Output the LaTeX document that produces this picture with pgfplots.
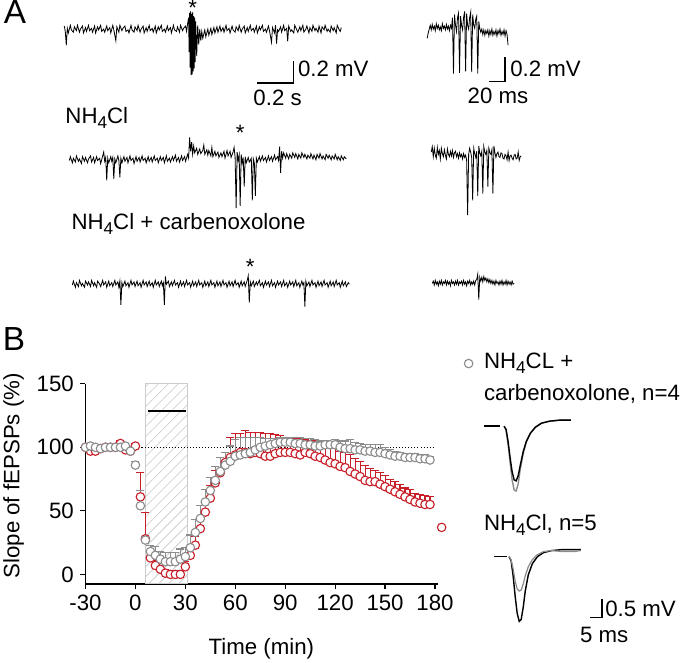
\documentclass[border=0pt]{standalone}
\usepackage{pgfplots}
\usepackage{pgfplotstable}
\pgfplotsset{compat=1.18}
\usetikzlibrary{patterns.meta}
\usepackage{fontspec}
\setmainfont{Liberation Sans}
\newcommand{\fs}{\fontsize{22}{26}\selectfont}
\newcommand{\sub}[1]{\raisebox{-5pt}{\fontsize{17}{17}\selectfont #1}}
\definecolor{nred}{RGB}{200,30,40}
\definecolor{ngray}{RGB}{140,140,140}

\pgfplotstableread{
t y e
-30 100 1
-27 97 2
-24 97 2
-21 99 2
-18 100 1
-15 100 2
-12 100 2
-9 103 2
-6 98 3
-3 97 2
0 101 2
3 61 19
6 28 21
9 13 4
12 7 4
15 4 3
18 1 3
21 0 3
24 0 3
27 0 3
30 6 4
33 15 6
36 23 7
39 36 8
42 49 8
45 60 10
48 72 10
51 80 12
54 88 8
57 92 16
60 94 17
63 96 15
66 96 17
69 95 17
72 96 16
75 95 17
78 93 18
81 93 18
84 95 15
87 96 13
90 96 12
93 96 12
96 95 12
99 94 13
102 96 10
105 95 10
108 93 12
111 92 12
114 90 10
117 88 13
120 87 12
123 85 12
126 84 12
129 81 13
132 79 12
135 77 12
138 74 12
141 73 10
144 73 9
147 71 9
150 69 9
153 67 8
156 65 8
159 63 8
162 61 7
165 59 8
168 57 7
171 56 7
174 55 7
177 55 6
184 37 0
}\tabRed

\pgfplotstableread{
t y e
-30 100 1
-27 101 1
-24 100 1
-21 99 1
-18 100 1
-15 100 1
-12 100 1
-9 100 2
-6 101 2
-3 97 2
0 86 3
3 54 12
6 27 3
9 18 5
12 15 7
15 12 6
18 10 7
21 10 7
24 10 7
27 12 8
30 14 7
33 21 10
36 33 10
39 44 10
42 57 10
45 66 10
48 74 11
51 81 11
54 86 10
57 89 12
60 93 13
63 94 14
66 95 13
69 96 12
72 98 10
75 100 8
78 101 6
81 102 5
84 103 4
87 104 4
90 104 4
93 104 4
96 103 5
99 103 5
102 102 5
105 102 5
108 101 5
111 101 4
114 102 3
117 102 2
120 102 4
123 100 5
126 99 6
129 99 7
132 98 6
135 98 5
138 97 5
141 97 5
144 96 6
147 96 6
150 95 5
153 94 4
156 93 4
159 93 3
162 92 3
165 92 3
168 92 3
171 91 3
174 91 3
177 90 3
}\tabGray

\begin{document}
\begin{tikzpicture}
% ---------- canvas for panel B legend (pixel frame) ----------
\begin{axis}[at={(0pt,0pt)}, anchor=south west, scale only axis, hide axis, clip=false,
  x=1pt, y=1pt, xmin=0, xmax=680, ymin=0, ymax=661, y dir=reverse]
\node[font=\fontsize{33}{36}\selectfont, anchor=base west, inner sep=0pt] at (2,29) {A};
\node[font=\fontsize{33}{36}\selectfont, anchor=base west, inner sep=0pt] at (1,352) {B};
\addplot[only marks, mark=*, mark size=4.2pt, mark options={fill=white, draw=ngray, line width=1.1pt}] coordinates {(462,365)};
\node[font=\fs, anchor=west, inner sep=0pt] at (477,365) {NH\sub{4}CL +};
\node[font=\fs, anchor=west, inner sep=0pt] at (477,395) {carbenoxolone, n=4};
\node[font=\fs, anchor=west, inner sep=0pt] at (477,525) {NH\sub{4}Cl, n=5};
% fEPSP top
\addplot[black, line width=1.6pt] coordinates {(477,427) (493,427)};
\addplot[ngray, line width=1.4pt] coordinates {(497,427) (499,431) (501,445) (503,463) (505,480) (507,490) (509,491) (511,484) (513,470) (516,454) (519,443) (523,434) (528,428) (534,424) (542,422) (552,421) (563,421)};
\addplot[black, line width=1.4pt] coordinates {(497,427) (499,430) (501,442) (503,458) (505,472) (507,480) (509,481) (511,476) (513,466) (516,452) (519,442) (523,434) (528,428) (534,424) (542,422) (552,421) (563,421)};
% fEPSP bottom
\addplot[black, line width=1.6pt] coordinates {(487,556) (500,556)};
\addplot[black, line width=1.4pt] coordinates {(502,556) (504,560) (506,575) (508,595) (510,612) (512,620) (514,618) (516,606) (518,590) (521,574) (525,563) (530,556) (536,552) (544,550) (555,549) (573,549)};
\addplot[ngray, line width=1.2pt] coordinates {(502,556) (504,559) (506,568) (508,580) (510,588) (512,590) (514,589) (516,583) (518,575) (521,566) (525,559) (530,554) (536,551) (544,550) (555,551) (566,551) (573,550)};
\addplot[black, line width=1.2pt] coordinates {(582,616) (594,616) (594,598)};
\node[font=\fs, anchor=west, inner sep=0pt] at (597,608) {0.5 mV};
\node[font=\fs, anchor=west, inner sep=0pt] at (572,633) {5 ms};
\end{axis}

% ---------- canvas for panel A (traces) ----------
\begin{axis}[at={(0pt,661pt)}, anchor=north west, scale only axis, hide axis, clip=false,
  x=1pt, y=0.76pt, xmin=0, xmax=680, ymin=0, ymax=440, y dir=reverse]
\node[font=\fs, anchor=base, inner sep=0pt] at (189,27) {*};
\node[font=\fs, anchor=base, inner sep=0pt] at (236,190) {*};
\node[font=\fs, anchor=base, inner sep=0pt] at (246,365) {*};
\node[font=\fs, anchor=west, inner sep=0pt] at (63,160) {NH\sub{4}Cl};
\node[font=\fs, anchor=west, inner sep=0pt] at (69,298) {NH\sub{4}Cl + carbenoxolone};
\addplot[black, line width=1.2pt] coordinates {(253,115) (289,115) (289,86)};
\node[font=\fs, anchor=west, inner sep=0pt] at (293,97) {0.2 mV};
\node[font=\fs, anchor=center, inner sep=0pt] at (273,134) {0.2 s};
\addplot[black, line width=1.2pt] coordinates {(482,113) (498,113) (498,81)};
\node[font=\fs, anchor=west, inner sep=0pt] at (503,97) {0.2 mV};
\node[font=\fs, anchor=center, inner sep=0pt] at (491,132) {20 ms};
% trace 1 left
\addplot[black, line width=0.8pt] coordinates {(62,41)(63,48)(64,66)(65,44)(66,50)(68,40)(69,46)(71,49)(72,42)(74,47)(75,40)(77,49)(78,45)(80,41)(81,50)(83,43)(84,48)(86,40)(87,47)(89,44)(90,49)(92,41)(93,50)(95,42)(96,46)(98,40)(99,48)(101,45)(102,49)(104,41)(105,47)(107,43)(108,50)(110,40)(111,46)(113,60)(114,42)(116,49)(117,40)(119,47)(120,44)(122,41)(123,48)(125,46)(126,50)(128,40)(129,46)(131,49)(132,42)(134,47)(135,40)(137,49)(138,45)(140,41)(141,50)(143,43)(144,48)(146,40)(147,47)(149,44)(150,49)(152,41)(153,50)(155,42)(156,46)(158,40)(159,48)(161,45)(162,49)(164,41)(165,47)(167,43)(168,50)(170,40)(171,46)(173,48)(174,42)(176,49)(177,40)(179,47)(180,44)(182,41)(183,48)(184,38)(185,30)(185.5,75)(186,24)(186.5,95)(187,22)(187.5,105)(188,25)(188.5,104)(189,23)(189.5,100)(190,28)(190.5,96)(191,30)(191.5,88)(192,35)(193,80)(194,40)(195,65)(196,45)(197,60)(198,48)(199,57)(201,46)(202,55)(204,45)(205,53)(207,44)(208,52)(210,43)(211,50)(213,42)(214,49)(216,41)(217,48)(219,43)(220,49)(222,40)(223,47)(225,44)(226,50)(228,41)(229,46)(231,49)(232,42)(234,47)(235,40)(237,49)(238,45)(240,41)(241,50)(243,43)(244,48)(246,40)(247,47)(249,44)(250,49)(252,41)(253,50)(255,42)(256,46)(258,40)(259,48)(261,45)(262,49)(264,41)(265,47)(267,62)(268,43)(270,50)(271,40)(272,64)(273,46)(274,48)(276,42)(277,49)(279,40)(280,47)(282,44)(283,61)(284,41)(286,48)(287,46)(289,50)(290,40)(292,46)(293,49)(295,42)(296,47)(298,40)(299,49)(301,45)(302,41)(304,50)(305,43)(307,48)(308,40)(310,47)(311,44)(313,49)(314,41)(316,50)(317,42)(319,46)(320,40)(322,48)(323,45)(325,49)(326,41)(328,47)(329,43)(331,50)(332,40)(334,46)(335,48)(336,43)};
% trace 1 right
\addplot[black, line width=0.8pt] coordinates {(421,57)(422,50)(423,45)(424,40)(425,46)(426,39)(427,45)(428,41)(429,47)(430,38)(431,44)(432,40)(433,46)(434,42)(435,47)(436,38)(437,44)(438,41)(439,46)(440,39)(441,45)(442,41)(443,47)(444,40)(445,44)(446,30)(447,103)(448,26)(449,40)(450,48)(451,30)(452,24)(453,102)(454,28)(455,40)(456,46)(457,30)(458,22)(459,100)(460,25)(461,40)(462,45)(463,30)(464,23)(465,101)(466,26)(467,40)(468,44)(469,32)(470,28)(471,103)(472,35)(473,44)(474,49)(475,45)(476,52)(477,46)(478,53)(479,47)(480,51)(481,46)(482,54)(483,47)(484,52)(485,45)(486,53)(487,48)(488,52)(489,46)(490,54)(491,47)(492,51)(493,45)(494,53)(495,48)(496,52)(497,46)(498,54)(499,47)(500,52)(501,66)};
% trace 2 left
\addplot[black, line width=0.8pt] coordinates {(67,216)(68,211)(70,219)(71,213)(73,218)(74,210)(76,217)(77,214)(79,220)(80,211)(82,217)(83,212)(85,219)(86,214)(88,210)(89,218)(91,212)(92,219)(94,211)(95,216)(97,213)(98,220)(100,210)(101,205)(102,217)(103,212)(104,242)(105,213)(106,219)(108,211)(109,217)(110,212)(111,240)(112,214)(113,219)(115,210)(116,216)(117,238)(118,213)(119,219)(121,211)(122,217)(124,212)(125,219)(127,210)(128,216)(130,213)(131,220)(133,211)(134,217)(136,212)(137,218)(139,210)(140,216)(142,213)(143,219)(145,211)(146,217)(148,212)(149,218)(151,210)(152,216)(154,213)(155,219)(157,211)(158,216)(160,212)(161,219)(163,210)(164,217)(166,213)(167,218)(169,211)(170,216)(172,209)(173,217)(175,212)(176,218)(178,210)(179,216)(181,211)(182,217)(184,208)(185,213)(186,186)(187,204)(188,192)(189,208)(190,197)(191,206)(193,200)(194,208)(196,201)(197,207)(199,203)(200,196)(201,208)(203,202)(204,209)(205,203)(207,210)(208,199)(209,211)(211,204)(212,210)(214,205)(215,212)(217,206)(218,211)(220,204)(221,213)(223,203)(224,210)(226,204)(227,212)(229,205)(230,199)(231,212)(232,278)(233,205)(234,216)(235,209)(236,275)(237,208)(238,220)(239,212)(240,250)(241,211)(242,219)(244,212)(245,218)(247,213)(248,268)(249,214)(250,219)(251,262)(252,213)(253,218)(255,211)(256,217)(258,210)(259,216)(261,212)(262,218)(264,210)(265,216)(267,211)(268,217)(270,209)(271,215)(273,211)(274,216)(275,198)(276,232)(277,204)(278,213)(279,206)(281,213)(282,207)(284,214)(285,208)(287,213)(288,206)(290,212)(291,207)(293,214)(294,208)(296,213)(297,206)(299,212)(300,208)(302,214)(303,209)(305,213)(306,207)(308,214)(309,209)(311,215)(312,208)(314,213)(315,207)(317,214)(318,210)(320,215)(321,208)(323,213)(324,209)(326,215)(327,210)(329,214)(330,208)(332,215)(333,211)(335,216)(336,210)(338,215)(339,211)(341,214)};
% trace 2 right
\addplot[black, line width=0.8pt] coordinates {(425,205)(426,198)(427,211)(428,200)(429,209)(430,213)(431,199)(432,208)(433,203)(434,214)(435,200)(436,207)(437,211)(438,202)(439,209)(440,214)(441,201)(442,208)(443,211)(444,204)(445,210)(446,203)(447,212)(448,206)(449,204)(450,211)(451,207)(452,213)(453,206)(454,211)(455,208)(456,214)(457,207)(458,212)(459,209)(460,215)(461,287)(462,208)(463,200)(464,205)(465,212)(466,268)(467,200)(468,207)(469,212)(470,204)(471,262)(472,197)(473,206)(474,210)(475,204)(476,259)(477,198)(478,205)(479,208)(480,203)(481,250)(482,200)(483,206)(484,208)(485,202)(486,259)(487,197)(488,206)(489,212)(490,207)(491,205)(492,211)(493,212)(494,206)(495,207)(496,213)(497,214)(498,208)(499,210)(500,215)(501,205)(502,216)(503,210)(504,209)(505,213)(506,215)(507,209)(508,208)(509,214)(510,213)(511,205)(512,216)(513,211)(514,210)};
% trace 3 left
\addplot[black, line width=0.8pt] coordinates {(70,378)(71,373)(73,381)(74,375)(76,380)(77,372)(79,379)(80,376)(82,381)(83,373)(85,378)(86,374)(88,380)(89,372)(91,379)(92,375)(94,381)(95,373)(97,377)(98,380)(100,372)(101,378)(103,374)(104,381)(106,373)(107,379)(109,375)(110,380)(112,372)(113,378)(115,374)(116,381)(117,373)(118,404)(119,375)(120,380)(122,373)(123,379)(125,375)(126,381)(128,372)(129,378)(131,374)(132,380)(134,373)(135,379)(137,375)(138,381)(140,372)(141,378)(143,374)(144,380)(146,373)(147,379)(149,375)(150,381)(152,372)(153,378)(155,374)(156,380)(158,373)(159,379)(160,375)(161,404)(162,367)(163,377)(165,373)(166,380)(168,374)(169,379)(171,372)(172,378)(174,375)(175,381)(177,373)(178,379)(180,374)(181,380)(183,372)(184,378)(186,375)(187,381)(189,373)(190,379)(192,374)(193,380)(195,372)(196,378)(198,375)(199,381)(201,373)(202,379)(204,374)(205,380)(207,372)(208,378)(210,375)(211,381)(213,373)(214,379)(216,374)(217,380)(219,372)(220,378)(222,375)(223,381)(225,373)(226,379)(228,374)(229,380)(231,372)(232,378)(234,375)(235,381)(237,373)(238,379)(240,374)(241,380)(243,372)(244,366)(245,401)(246,374)(247,379)(249,373)(250,380)(252,374)(253,378)(255,372)(256,379)(258,375)(259,381)(261,373)(262,378)(264,374)(265,380)(267,372)(268,379)(270,375)(271,381)(273,373)(274,378)(276,374)(277,380)(279,372)(280,379)(282,375)(283,381)(285,373)(286,378)(288,374)(289,380)(291,372)(292,379)(294,375)(295,381)(297,373)(298,378)(299,375)(300,406)(301,373)(302,379)(304,374)(305,380)(307,372)(308,378)(310,375)(311,381)(313,373)(314,379)(316,374)(317,380)(319,372)(320,378)(322,375)(323,381)(325,373)(326,379)(328,374)(329,380)(331,372)(332,378)(334,375)(335,381)(337,373)(338,379)(340,374)(341,380)(343,375)(344,377)};
% trace 3 right
\addplot[black, line width=0.8pt] coordinates {(426,376)(427,373)(428,378)(429,372)(430,377)(431,374)(432,379)(433,373)(434,377)(435,372)(436,378)(437,374)(438,376)(439,372)(440,378)(441,373)(442,377)(443,374)(444,379)(445,372)(446,376)(447,374)(448,378)(449,373)(450,377)(451,372)(452,378)(453,374)(454,376)(455,373)(456,378)(457,372)(458,377)(459,374)(460,379)(461,373)(462,376)(463,372)(464,378)(465,374)(466,377)(467,373)(468,378)(469,372)(470,371)(471,364)(472,397)(473,368)(474,373)(475,368)(476,374)(477,367)(478,372)(479,369)(480,374)(481,370)(482,375)(483,371)(484,376)(485,372)(486,377)(487,373)(488,378)(489,372)(490,376)(491,374)(492,378)(493,373)(494,377)(495,372)(496,378)(497,374)(498,377)(499,372)(500,378)(501,373)(502,377)(503,374)(504,378)(505,373)(506,377)(507,376)};
\end{axis}

% ---------- panel B main axis ----------
\begin{axis}[at={(83pt,78pt)}, anchor=south west, scale only axis,
  width=349pt, height=198pt,
  xmin=-30, xmax=182, ymin=-7.5, ymax=150,
  axis x line*=bottom, axis y line*=left,
  axis line style={line width=1.2pt, black, -},
  xtick={-30,0,30,60,90,120,150,180}, ytick={0,50,100,150},
  tick align=outside, major tick length=5pt,
  tick style={line width=1.2pt, black},
  /pgf/number format/assume math mode=true,
  ticklabel style={font=\fs},
  xticklabel style={yshift=-2pt},
  yticklabel style={xshift=-3pt},
  xlabel={Time (min)}, ylabel={Slope of fEPSPs (\%)},
  label style={font=\fs},
  xlabel style={at={(axis description cs:0.4986,-0.323)}, anchor=center},
  ylabel style={at={(axis description cs:-0.2034,0.54)}, anchor=center},
  clip=false]
\addplot[draw=gray!40, line width=1pt, pattern={Lines[angle=45,distance=7pt,line width=0.6pt]}, pattern color=gray!45] coordinates {(6,-7.5) (6,150) (31,150) (31,-7.5)} -- cycle;
\addplot[black, line width=1pt, dash pattern=on 1pt off 2pt] coordinates {(0,100) (180,100)};
\addplot[black, line width=1.6pt] coordinates {(7.7,128.5) (30.4,128.5)};
% red: caps, bars, circles
\addplot[nred, only marks, mark=-, mark size=4pt, mark options={line width=1.1pt}]
  table[x=t, y expr=\thisrow{y}+\thisrow{e}] {\tabRed};
\addplot[nred, only marks, mark=*, mark size=4.2pt, mark options={fill=white, draw=nred, line width=1.1pt},
  error bars/.cd, y dir=plus, y explicit, error mark=none, error bar style={nred, line width=1.1pt}]
  table[x=t, y=y, y error=e] {\tabRed};
% gray: caps, bars, circles
\addplot[ngray, only marks, mark=-, mark size=4pt, mark options={line width=1.1pt}]
  table[x=t, y expr=\thisrow{y}+\thisrow{e}] {\tabGray};
\addplot[ngray, only marks, mark=*, mark size=4.2pt, mark options={fill=white, draw=ngray, line width=1.1pt},
  error bars/.cd, y dir=plus, y explicit, error mark=none, error bar style={ngray, line width=1.1pt}]
  table[x=t, y=y, y error=e] {\tabGray};
\end{axis}
\end{tikzpicture}
\end{document}
